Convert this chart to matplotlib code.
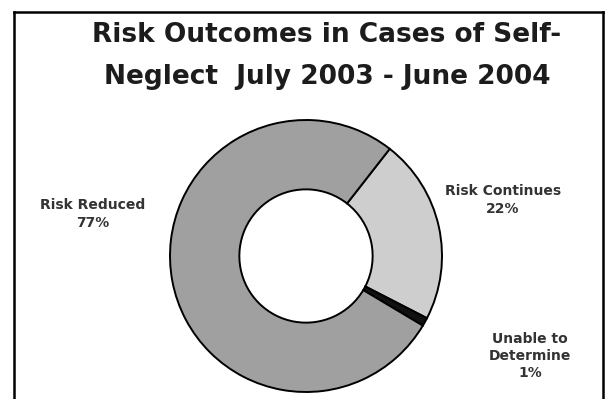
import matplotlib
matplotlib.use("Agg")
import matplotlib.pyplot as plt
from matplotlib.lines import Line2D

# chart data
labels = ["Risk Continues", "Unable to\nDetermine", "Risk Reduced"]
values = [22, 1, 77]
colors = ["#cecece", "#111111", "#a0a0a0"]

W, H = 605, 399
fig = plt.figure(figsize=(W / 100, H / 100), dpi=100)
fig.patch.set_facecolor("white")

ax = fig.add_axes([0, 0, 1, 1])
center = (306, H - 256)
radius = 136
ax.pie(values, colors=colors, startangle=52, counterclock=False,
       center=center, radius=radius, frame=True,
       wedgeprops=dict(width=radius * 0.51, edgecolor="black", linewidth=1.4))
ax.set_xlim(0, W)
ax.set_ylim(0, H)
ax.set_aspect("equal")
ax.axis("off")

# title
title_style = dict(ha="center", va="center", fontsize=19, fontweight="bold",
                   family="DejaVu Sans", color="#1c1c1c")
fig.text(327 / W, 1 - 35 / H, "Risk Outcomes in Cases of Self-", **title_style)
fig.text(327 / W, 1 - 77 / H, "Neglect  July 2003 - June 2004", **title_style)

# slice labels
lab_style = dict(ha="center", va="center", fontsize=10, fontweight="bold",
                 family="DejaVu Sans", color="#333333", linespacing=1.3)
label_pos = [(503, 200), (530, 356), (93, 214)]
for lab, v, (x, y) in zip(labels, values, label_pos):
    ax.text(x, H - y, f"{lab}\n{v}%", **lab_style)

# frame around the chart (bottom edge cut off in the original)
for xs, ys in [([14, 14], [12, 399]), ([14, 603], [12, 12]), ([603, 603], [12, 399])]:
    fig.add_artist(Line2D([x / W for x in xs], [1 - y / H for y in ys],
                          color="black", linewidth=1.8, transform=fig.transFigure))

fig.savefig("out.png", dpi=100, facecolor="white")
